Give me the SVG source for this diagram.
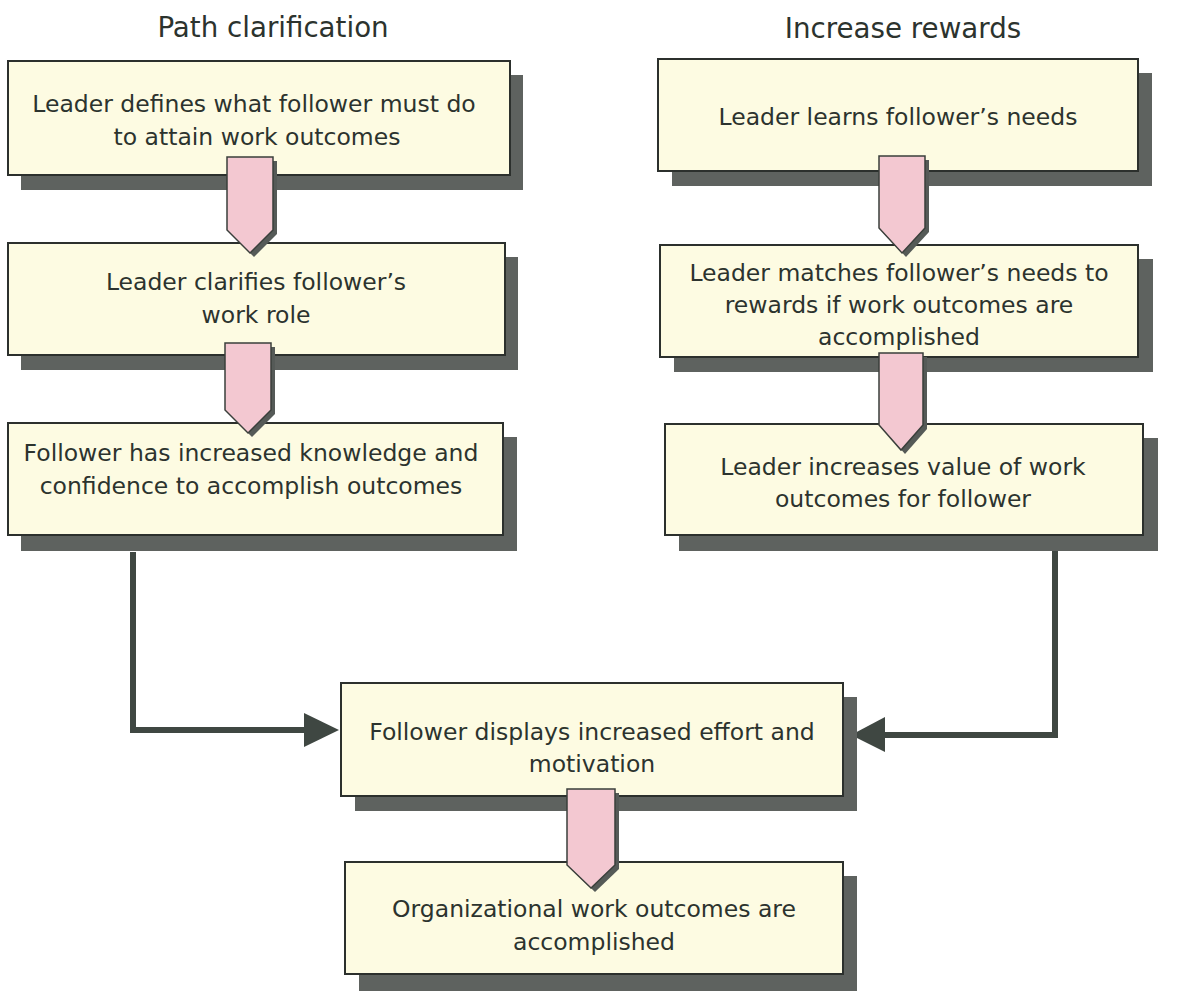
<svg xmlns="http://www.w3.org/2000/svg" width="1185" height="991" viewBox="0 0 1185 991">
<style>
.bg{fill:#ffffff}
.shadow{fill:#5e625f}
.box{fill:#fdfbe2;stroke:#2c302d;stroke-width:2}
.txt{font-family:"DejaVu Sans",Verdana,sans-serif;font-size:23.5px;fill:#2c332e;text-anchor:middle}
.title{font-family:"DejaVu Sans",Verdana,sans-serif;font-size:27.7px;fill:#2c332e;text-anchor:middle}
.barrow{fill:#f3c8d1;stroke:#3a3f3b;stroke-width:1.5;stroke-linejoin:miter}
.bshadow{fill:#555a57}
.conn{fill:none;stroke:#3f4742;stroke-width:6;stroke-linejoin:miter}
.head{fill:#3f4742}
</style>
<rect class="bg" x="0" y="0" width="1185" height="991"/>

<text class="title" x="273" y="37">Path clarification</text>
<text class="title" x="903" y="38">Increase rewards</text>

<g id="connectors">
  <polyline class="conn" points="133,552 133,730 306,730"/>
  <polygon class="head" points="304,713 304,747 339,730"/>
  <polyline class="conn" points="1055,550 1055,735 883,735"/>
  <polygon class="head" points="885,717 885,752 851,735"/>
</g>

<g id="node-defines">
  <rect class="shadow" x="21" y="75" width="502" height="115"/>
  <rect class="box" x="8" y="61" width="502" height="114"/>
  <text class="txt" x="254" y="112">Leader defines what follower must do</text>
  <text class="txt" x="257" y="145">to attain work outcomes</text>
</g>

<g id="node-clarifies">
  <rect class="shadow" x="21" y="257" width="497" height="113"/>
  <rect class="box" x="8" y="243" width="497" height="112"/>
  <text class="txt" x="256" y="290">Leader clarifies follower’s</text>
  <text class="txt" x="256" y="323">work role</text>
</g>

<g id="node-knowledge">
  <rect class="shadow" x="21" y="437" width="496" height="114"/>
  <rect class="box" x="8" y="423" width="495" height="112"/>
  <text class="txt" x="251" y="461">Follower has increased knowledge and</text>
  <text class="txt" x="251" y="494">confidence to accomplish outcomes</text>
</g>

<g id="node-learns">
  <rect class="shadow" x="672" y="73" width="480" height="113"/>
  <rect class="box" x="658" y="59" width="480" height="112"/>
  <text class="txt" x="898" y="125">Leader learns follower’s needs</text>
</g>

<g id="node-matches">
  <rect class="shadow" x="674" y="259" width="479" height="113"/>
  <rect class="box" x="660" y="245" width="478" height="112"/>
  <text class="txt" x="899" y="281">Leader matches follower’s needs to</text>
  <text class="txt" x="899" y="313">rewards if work outcomes are</text>
  <text class="txt" x="899" y="345">accomplished</text>
</g>

<g id="node-value">
  <rect class="shadow" x="679" y="438" width="479" height="113"/>
  <rect class="box" x="665" y="424" width="478" height="111"/>
  <text class="txt" x="903" y="475">Leader increases value of work</text>
  <text class="txt" x="903" y="507">outcomes for follower</text>
</g>

<g id="node-effort">
  <rect class="shadow" x="355" y="697" width="502" height="114"/>
  <rect class="box" x="341" y="683" width="502" height="113"/>
  <text class="txt" x="592" y="740">Follower displays increased effort and</text>
  <text class="txt" x="592" y="772">motivation</text>
</g>

<g id="node-outcomes">
  <rect class="shadow" x="359" y="876" width="498" height="115"/>
  <rect class="box" x="345" y="862" width="498" height="112"/>
  <text class="txt" x="594" y="917">Organizational work outcomes are</text>
  <text class="txt" x="594" y="950">accomplished</text>
</g>

<g id="block-arrows">
  <path class="bshadow" d="M231,161 L277,161 L277,234 L254,257 L231,234 Z"/>
  <path class="barrow" d="M227,157 L273,157 L273,230 L250,253 L227,230 Z"/>

  <path class="bshadow" d="M229,347 L275,347 L275,414 L252,437 L229,414 Z"/>
  <path class="barrow" d="M225,343 L271,343 L271,410 L248,433 L225,410 Z"/>

  <path class="bshadow" d="M883,160 L929,160 L929,232 L906,257 L883,232 Z"/>
  <path class="barrow" d="M879,156 L925,156 L925,228 L902,253 L879,228 Z"/>

  <path class="bshadow" d="M883,357 L927,357 L927,429 L905,454 L883,429 Z"/>
  <path class="barrow" d="M879,353 L923,353 L923,425 L901,450 L879,425 Z"/>

  <path class="bshadow" d="M571,793 L619,793 L619,869 L595,892 L571,869 Z"/>
  <path class="barrow" d="M567,789 L615,789 L615,865 L591,888 L567,865 Z"/>
</g>
</svg>
